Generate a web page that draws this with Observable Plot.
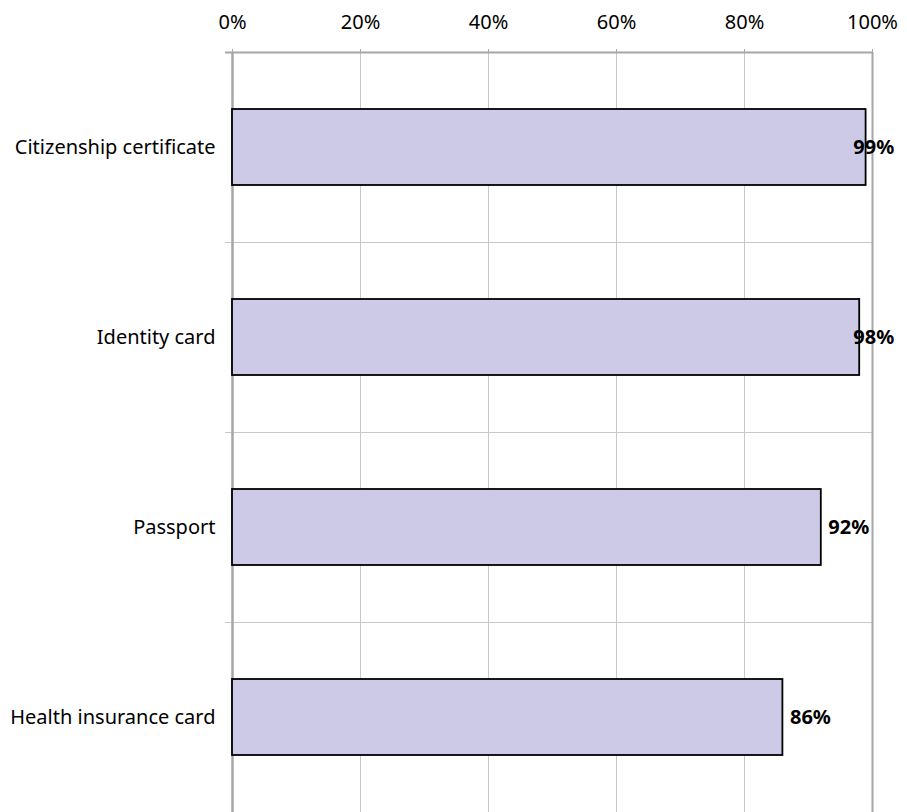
<!DOCTYPE html>
<html><head><meta charset="utf-8">
<script src="https://cdn.jsdelivr.net/npm/d3@7"></script>
<script src="https://cdn.jsdelivr.net/npm/@observablehq/plot@0.6"></script>
<style>body{margin:0;background:#fff;} svg{display:block;}</style>
</head><body><div id="chart"></div>
<script>
const categories = ["Citizenship certificate", "Identity card", "Passport", "Health insurance card"];
const values = [99, 98, 92, 86];
const xTicks = [0, 20, 40, 60, 80, 100];

const data = categories.map((c, i) => ({category: c, value: values[i]}));
const W = 907, H = 812, mT = 52, mB = 0, mL = 232, mR = 35;
const step = (H - mT - mB) / categories.length;
const font = "'Noto Sans', 'Open Sans', sans-serif";

const chart = Plot.plot({
  width: W, height: H,
  marginTop: mT, marginBottom: mB, marginLeft: mL, marginRight: mR,
  style: {fontFamily: font, fontSize: "20px", color: "#000", background: "#fff"},
  x: {domain: [0, 100], axis: null, label: null},
  y: {domain: categories, paddingInner: 0.6, paddingOuter: 0.3, axis: null, label: null},
  marks: [
    Plot.ruleX(xTicks.slice(1, -1), {stroke: "#c8c8c8", strokeWidth: 1}),
    Plot.ruleY(categories.slice(1), {y: d => d, dy: -step / 2, x1: -1.1, x2: 100, stroke: "#c8c8c8", strokeWidth: 1}),
    Plot.ruleY([categories[0]], {y: d => d, dy: -step / 2, x1: -1.1, x2: 100, stroke: "#a6a6a6", strokeWidth: 2}),
    Plot.ruleX([0], {stroke: "#a6a6a6", strokeWidth: 2.5}),
    Plot.ruleX([100], {stroke: "#a6a6a6", strokeWidth: 2}),
    Plot.barX(data, {x: "value", y: "category", fill: "#cccae6", stroke: "#000", strokeWidth: 1.8}),
    Plot.text(data, {x: d => Math.min(d.value + 1.1, 97.0), y: "category", text: d => d.value + "%", textAnchor: "start", fontWeight: "bold", fontSize: 20, fill: "#000"}),
    Plot.axisX({anchor: "top", ticks: xTicks, tickFormat: d => d + "%", tickSize: 4, tickPadding: 20, fontSize: 20, stroke: "#a6a6a6", label: null}),
    Plot.axisY({anchor: "left", tickSize: 0, tickPadding: 17, fontSize: 20, label: null})
  ]
});
document.getElementById("chart").appendChild(chart);
</script>
</body></html>
